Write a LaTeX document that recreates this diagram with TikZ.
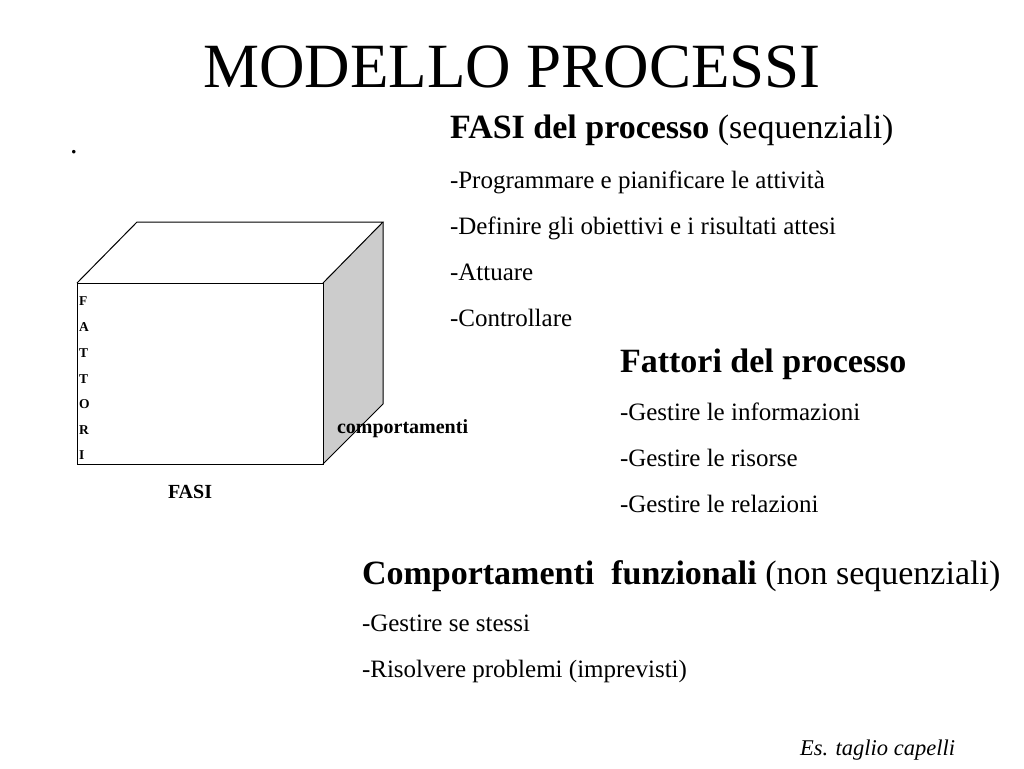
\documentclass[tikz,border=0pt]{standalone}
\usepackage{fontspec}
\setmainfont{Liberation Serif}
\begin{document}
\begin{tikzpicture}[x=1pt,y=-1pt,
  txt/.style={anchor=base west,inner sep=0pt,outer sep=0pt},
  edge/.style={draw=black,line width=1pt,line join=miter}]
\useasboundingbox[fill=white] (0,0) rectangle (1024,768);
% title
\node[txt,anchor=base] (title) at (512,87) {\fontsize{63}{70}\selectfont MODELLO PROCESSI};
\node[txt] (dot) at (70,153) {\fontsize{30}{30}\selectfont .};
% cube
\coordinate (a) at (77,283);
\coordinate (b) at (323,283);
\coordinate (c) at (323,464);
\coordinate (d) at (77,464);
\coordinate (e) at (137,222);
\coordinate (f) at (383,222);
\coordinate (g) at (383,404);
\fill[gray!40] (b) -- (f) -- (g) -- (c) -- cycle;
\draw[edge] (a) -- (b) -- (c) -- (d) -- cycle;
\draw[edge] (a) -- (e) -- (f) -- (b);
\draw[edge] (f) -- (g) -- (c);
\foreach \l/\y [count=\i] in {F/305,A/331,T/357,T/383,O/408,R/434,I/459}
  \node[txt] (fl\i) at (79,\y) {\fontsize{13.5}{14}\selectfont\bfseries \l};
\node[txt] (comp) at (337,433) {\fontsize{20}{22}\selectfont\bfseries comportamenti};
\node[txt] (fasi) at (168,498) {\fontsize{20}{22}\selectfont\bfseries FASI};
% FASI block
\node[txt] (h1) at (450,138) {\fontsize{34}{36}\selectfont\textbf{FASI del processo} (sequenziali)};
\node[txt] (h1a) at (450,188) {\fontsize{25}{28}\selectfont -Programmare e pianificare le attività};
\node[txt] (h1b) at (450,234) {\fontsize{25}{28}\selectfont -Definire gli obiettivi e i risultati attesi};
\node[txt] (h1c) at (450,280) {\fontsize{25}{28}\selectfont -Attuare};
\node[txt] (h1d) at (450,326) {\fontsize{25}{28}\selectfont -Controllare};
% Fattori block
\node[txt] (h2) at (620,372) {\fontsize{34}{36}\selectfont\textbf{Fattori del processo}};
\node[txt] (h2a) at (620,420) {\fontsize{25}{28}\selectfont -Gestire le informazioni};
\node[txt] (h2b) at (620,466) {\fontsize{25}{28}\selectfont -Gestire le risorse};
\node[txt] (h2c) at (620,512) {\fontsize{25}{28}\selectfont -Gestire le relazioni};
% Comportamenti block
\node[txt] (h3) at (362,584) {\fontsize{34}{36}\selectfont\textbf{Comportamenti\ \ funzionali} (non sequenziali)};
\node[txt] (h3a) at (362,631) {\fontsize{25}{28}\selectfont -Gestire se stessi};
\node[txt] (h3b) at (362,677) {\fontsize{25}{28}\selectfont -Risolvere problemi (imprevisti)};
\node[txt] (es) at (800,755) {\fontsize{22.5}{24}\selectfont\itshape Es. taglio capelli};
\end{tikzpicture}
\end{document}
